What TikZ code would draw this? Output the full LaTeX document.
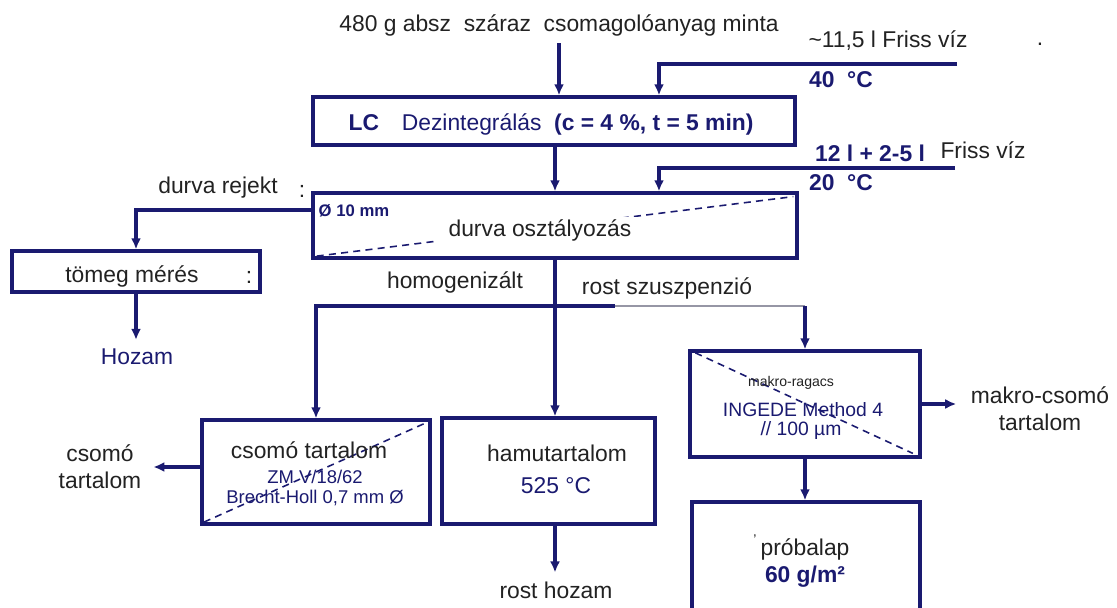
\documentclass[tikz,border=0pt]{standalone}
\usepackage{fontspec}
\setmainfont{Liberation Sans}
\usetikzlibrary{arrows.meta}
\definecolor{figN}{RGB}{26,26,112}
\definecolor{figK}{RGB}{34,34,34}
\definecolor{figG}{RGB}{150,150,165}

\begin{document}
\begin{tikzpicture}[x=0.02cm,y=-0.02cm,>={Latex[length=2.2mm,width=2mm]},
  line/.style={figN,line width=1.9pt},
  box/.style={draw=figN,line width=1.9pt,inner sep=0pt},
  cut/.style={figN,line width=0.9pt,dash pattern=on 4pt off 3pt},
  lbl/.style={font=\fontsize{13}{15.5}\selectfont,text=figK,inner sep=1pt},
  res/.style={lbl,inner sep=5pt},
  val/.style={font=\fontsize{10.5}{12.5}\selectfont,text=figN,inner sep=1pt},
  tag/.style={font=\fontsize{8}{9}\selectfont,text=figK,inner sep=1pt}]
\useasboundingbox (0,0) rectangle (1117,608);
% boxes
\node[box,minimum width=9.64cm,minimum height=0.96cm] (lc) at (554,121) {};
\node[box,minimum width=9.68cm,minimum height=1.3cm] (durva) at (555,225.5) {};
\node[box,minimum width=4.96cm,minimum height=0.82cm] (tomeg) at (136,271.5) {};
\node[box,minimum width=4.56cm,minimum height=2.08cm] (csomo) at (316,472) {};
\node[box,minimum width=4.26cm,minimum height=2.12cm] (hamu) at (548.5,471) {};
\node[box,minimum width=4.6cm,minimum height=2.12cm] (makro) at (805,404) {};
\node[box,minimum width=4.56cm,minimum height=2.36cm] (proba) at (806,561) {};
% dashed cuts
\draw[cut] ([xshift=3pt,yshift=2pt]durva.south west) -- ([xshift=-3pt,yshift=-3pt]durva.north east);
\draw[cut] ([xshift=2pt,yshift=2pt]csomo.south west) -- ([xshift=-2pt,yshift=-2pt]csomo.north east);
\draw[cut] ([xshift=4pt,yshift=-2pt]makro.north west) -- ([xshift=-5pt,yshift=3pt]makro.south east);
% texts
\node[lbl,inner sep=4pt] (src) at (559,25) {480 g absz\ \ száraz\ \ csomagolóanyag minta};
\node[lbl] (fw1) at (888,41) {\textasciitilde11,5 l Friss víz};
\node[lbl] (dot) at (1040,44) {.};
\node[lbl,text=figN,font=\fontsize{13}{15.5}\selectfont\bfseries] (t40) at (841,80) {40\ \ °C};
\node[lbl,text=figN] (lct) at (551,124) {\textbf{LC}\quad Dezintegrálás\ \ \textbf{(c = 4 \%, t = 5 min)}};
\node[lbl,text=figN,font=\fontsize{13}{15.5}\selectfont\bfseries] (fw2) at (870,153) {12 l + 2-5 l};
\node[lbl] (fw2b) at (983,150) {Friss víz};
\node[lbl,text=figN,font=\fontsize{13}{15.5}\selectfont\bfseries] (t20) at (841,183) {20\ \ °C};
\node[lbl] (rej) at (218,188) {durva rejekt};
\node[lbl] (col1) at (302,191) {:};
\node[val,font=\fontsize{9.5}{11}\selectfont\bfseries] (d10) at (354,211) {Ø 10 mm};
\node[lbl,fill=white,inner xsep=6pt] (durt) at (540,230) {durva osztályozás};
\node[lbl] (tomt) at (132,276) {tömeg mérés};
\node[lbl] (col2) at (249,277) {:};
\node[res,text=figN] (hoz) at (137,357) {Hozam};
\node[lbl] (hom) at (455,282) {homogenizált};
\node[lbl] (rsz) at (667,288) {rost szuszpenzió};
\node[lbl] (cst) at (309,450) {csomó tartalom};
\node[val] (zmv) at (315,477) {ZM V/18/62};
\node[val] (bh) at (315,498) {Brecht-Holl 0,7 mm Ø};
\node[lbl,align=center] (csl) at (100,467) {csomó\\tartalom};
\node[lbl] (hmt) at (557,453) {hamutartalom};
\node[lbl,text=figN] (t525) at (556,486) {525 °C};
\node[res] (rh) at (556,590) {rost hozam};
\node[tag] (mrg) at (791,383) {makro-ragacs};
\node[val,font=\fontsize{11}{13}\selectfont] (ing) at (803,410) {INGEDE Method 4};
\node[val,font=\fontsize{11}{13}\selectfont] (mu) at (801,431) {// 100 µm};
\node[lbl,align=center] (mkl) at (1040,409) {makro-csomó\\tartalom};
\node[tag] (tick) at (755,540) {'};
\node[lbl] (pbl) at (805,549) {próbalap};
\node[lbl,text=figN,font=\fontsize{13}{15.5}\selectfont\bfseries] (g60) at (805,577) {60 g/m²};
% flows
\coordinate (w1) at (957,64);
\coordinate (w2) at (955,168);
\coordinate (sp) at (555,306);
\coordinate (gr) at (615,306);
\draw[line,->] (src.south) -- (src.south |- lc.north);
\draw[line,->] (w1) -| ([xshift=2.1cm]lc.north);
\draw[line,->] (lc.south -| durva.north) -- (durva.north);
\draw[line,->] (w2) -| ([xshift=2.08cm]durva.north);
\draw[line,->] ([yshift=0.31cm]durva.west) -| (tomeg.north);
\draw[line,->] (tomeg.south) -- (tomeg.south |- hoz.north);
\draw[line,->] (durva.south) -- (durva.south |- hamu.north);
\draw[line,->] (sp) -| (csomo.north);
\draw[line] (sp) -- (gr);
\draw[figG,line width=0.7pt] (gr) -- (gr -| makro.north);
\draw[line,->] (gr -| makro.north) -- (makro.north);
\draw[line,->] (csomo.west |- csl) -- ([xshift=0.2cm]csl.east);
\draw[line,->] (hamu.south -| sp) -- (sp |- rh.north);
\draw[line,->] (makro.east) -- ([xshift=-0.25cm]mkl.west |- makro.east);
\draw[line,->] (makro.south) -- (makro.south |- proba.north);
\end{tikzpicture}
\end{document}
